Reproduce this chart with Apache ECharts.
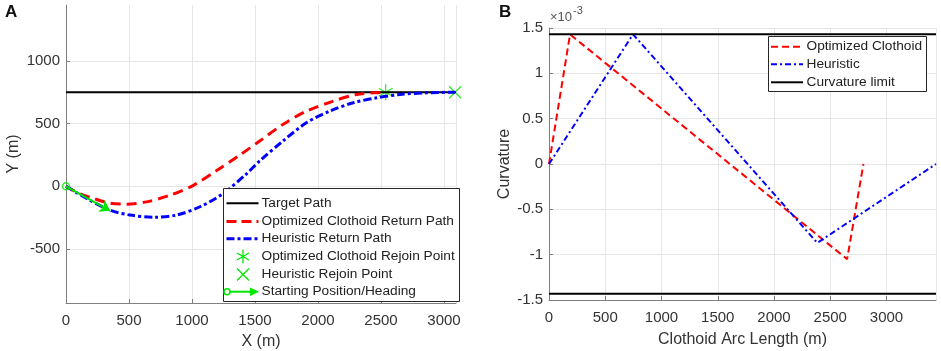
<!DOCTYPE html>
<html>
<head>
<meta charset="utf-8">
<script src="https://cdn.jsdelivr.net/npm/echarts@6/dist/echarts.min.js"></script>
<style>
html,body{margin:0;padding:0;background:#fff}
#chart{width:941px;height:351px}
</style>
</head>
<body>
<div id="chart"></div>
<script>
// panel A - paths (m)
const targetPath = [[0, 750], [3095, 750]];
const clothoidPath = [[0, 0], [100, -55], [214, -95], [349, -134], [481, -142], [640, -124], [825, -71],
    [1011, 8], [1196, 126], [1381, 250], [1540, 363], [1724, 495], [1910, 600], [2121, 679],
    [2307, 732], [2492, 748], [2537, 750]];
const heuristicPath = [[0, 0], [175, -103], [349, -190], [508, -229], [706, -247], [878, -229],
    [1063, -163], [1246, -58], [1433, 100], [1540, 205], [1724, 363], [1910, 508], [2095, 600],
    [2280, 666], [2466, 705], [2651, 732], [2862, 745], [3087, 750]];
const clothoidRejoin = [[2537, 750]];
const heuristicRejoin = [[3087, 750]];
const startPos = [[0, 0]];
const startHeading = [[0, 0], [350, -195]];
const pathYTicks = [-500, 0, 500, 1000];

// panel B - curvature (x1e-3) vs arc length (m)
const clothoidCurv = [[0, 0], [187, 1.43], [2650, -1.05], [2795, 0]];
const heuristicCurv = [[0, 0], [747, 1.43], [2385, -0.87], [3440, 0]];
const curvLimit = 1.43;

const FONT = 'Liberation Sans';
const GREEN = '#00e600';
const TXT = '#333';
const AXC = '#808080';
const GRIDC = '#e6e6e6';
const ASTER = 'path://M0,-1L0,1M-0.87,-0.5L0.87,0.5M-0.87,0.5L0.87,-0.5M-1,0L1,0';
const XMARK = 'path://M-1,-1L1,1M-1,1L1,-1';

let myChart = echarts.init(document.getElementById('chart'));

function axisCommon() {
    return {
        axisLine: {show: true, onZero: false, lineStyle: {color: AXC, width: 1}},
        axisTick: {show: true, inside: true, length: 4, lineStyle: {color: AXC}},
        splitLine: {show: true, lineStyle: {color: GRIDC, width: 1}},
        axisLabel: {color: TXT, fontFamily: FONT, fontSize: 15, margin: 6,
            formatter: function (v) { return String(v); }},
        nameTextStyle: {color: TXT, fontFamily: FONT, fontSize: 16}
    };
}

// legend drawn by hand to look like matlab
function gLine(x1, y1, x2, y2, color, dash, w) {
    return {type: 'line', z: 101, shape: {x1: x1, y1: y1, x2: x2, y2: y2},
        style: {stroke: color, lineWidth: w, lineDash: dash}};
}
function legendLine(x, y, color, dash, w) {
    return gLine(x, y, x + 32, y, color, dash, w);
}
function legendText(x, y, t) {
    return {type: 'text', z: 101, x: x, y: y,
        style: {text: t, fill: '#222', font: '13.7px "Liberation Sans"', verticalAlign: 'middle'}};
}

let graphics = [
    {type: 'text', x: 5, y: 4, style: {text: 'A', fill: '#111', font: 'bold 17px "Liberation Sans"'}},
    {type: 'text', x: 499, y: 4, style: {text: 'B', fill: '#111', font: 'bold 17px "Liberation Sans"'}},
    {type: 'text', x: 550, y: 11, style: {text: '×10', fill: '#555', font: '13px "Liberation Sans"'}},
    {type: 'text', x: 573, y: 5, style: {text: '-3', fill: '#555', font: '11px "Liberation Sans"'}},
    // legend A
    {type: 'rect', z: 100, shape: {x: 223.5, y: 188.5, width: 236, height: 113},
        style: {fill: '#fff', stroke: '#262626', lineWidth: 1}},
    legendLine(226.5, 203.3, '#000', null, 2),
    legendLine(226.5, 221.5, '#ff0000', [10, 5], 3),
    legendLine(226.5, 238.7, '#0000ff', [8, 3, 3, 3], 3),
    gLine(243, 249.5, 243, 263.5, GREEN, null, 1.3),
    gLine(237, 253, 249, 260, GREEN, null, 1.3),
    gLine(237, 260, 249, 253, GREEN, null, 1.3),
    gLine(237, 268.5, 249, 280.5, GREEN, null, 1.3),
    gLine(237, 280.5, 249, 268.5, GREEN, null, 1.3),
    gLine(227, 291.7, 256, 291.7, GREEN, null, 2),
    {type: 'polygon', z: 101, shape: {points: [[259, 291.7], [250, 287.5], [250, 295.9]]},
        style: {fill: GREEN}},
    {type: 'circle', z: 102, shape: {cx: 227, cy: 291.7, r: 3},
        style: {stroke: GREEN, lineWidth: 1.5, fill: '#fff'}},
    legendText(261.5, 203.3, 'Target Path'),
    legendText(261.5, 221.5, 'Optimized Clothoid Return Path'),
    legendText(261.5, 238.7, 'Heuristic Return Path'),
    legendText(261.5, 256.5, 'Optimized Clothoid Rejoin Point'),
    legendText(261.5, 274.5, 'Heuristic Rejoin Point'),
    legendText(261.5, 291.7, 'Starting Position/Heading'),
    // legend B
    {type: 'rect', z: 100, shape: {x: 768.5, y: 36.5, width: 158, height: 55},
        style: {fill: '#fff', stroke: '#262626', lineWidth: 1}},
    legendLine(771, 46.7, '#ff0000', [7, 4], 2),
    legendLine(771, 64.3, '#0000ff', [6, 3, 2, 3], 2),
    legendLine(771, 82.3, '#000', null, 2),
    legendText(806.5, 46.7, 'Optimized Clothoid'),
    legendText(806.5, 64.3, 'Heuristic'),
    legendText(806.5, 82.3, 'Curvature limit')
];

let xA = axisCommon();
let yA = axisCommon();
let xB = axisCommon();
let yB = axisCommon();

let option = {
    animation: false,
    backgroundColor: '#fff',
    textStyle: {fontFamily: FONT},
    grid: [
        {left: 66, top: 5, width: 390, height: 298, outerBoundsMode: 'none'},
        {left: 549, top: 28, width: 387, height: 272, outerBoundsMode: 'none'}
    ],
    xAxis: [
        Object.assign(xA, {gridIndex: 0, type: 'value', min: 0, max: 3095, interval: 500,
            name: 'X (m)', nameLocation: 'middle', nameGap: 31,
            axisLabel: Object.assign(xA.axisLabel, {showMaxLabel: false, margin: 10})}),
        Object.assign(xB, {gridIndex: 1, type: 'value', min: 0, max: 3440, interval: 500,
            name: 'Clothoid Arc Length (m)', nameLocation: 'middle', nameGap: 32,
            axisLabel: Object.assign(xB.axisLabel, {showMaxLabel: false, margin: 10})})
    ],
    yAxis: [
        Object.assign(yA, {gridIndex: 0, type: 'value', min: -930, max: 1445,
            name: 'Y (m)', nameLocation: 'middle', nameGap: 44,
            axisLabel: Object.assign(yA.axisLabel, {customValues: pathYTicks}),
            axisTick: Object.assign(yA.axisTick, {customValues: pathYTicks})}),
        Object.assign(yB, {gridIndex: 1, type: 'value', min: -1.5, max: 1.5, interval: 0.5,
            name: 'Curvature', nameLocation: 'middle', nameGap: 36})
    ],
    series: [
        {type: 'line', name: 'Target Path', xAxisIndex: 0, yAxisIndex: 0, data: targetPath,
            showSymbol: false, lineStyle: {color: '#000', width: 2}},
        {type: 'line', name: 'Optimized Clothoid Return Path', xAxisIndex: 0, yAxisIndex: 0,
            data: clothoidPath, showSymbol: false, smooth: 0.3,
            lineStyle: {color: '#ff0000', width: 3, type: [10, 6]}},
        {type: 'line', name: 'Heuristic Return Path', xAxisIndex: 0, yAxisIndex: 0,
            data: heuristicPath, showSymbol: false, smooth: 0.3,
            lineStyle: {color: '#0000ff', width: 3, type: [8, 3, 3, 3]}},
        {type: 'scatter', name: 'Optimized Clothoid Rejoin Point', xAxisIndex: 0, yAxisIndex: 0,
            data: clothoidRejoin, symbol: ASTER, symbolSize: 16,
            itemStyle: {color: 'none', borderColor: GREEN, borderWidth: 1.3}},
        {type: 'scatter', name: 'Heuristic Rejoin Point', xAxisIndex: 0, yAxisIndex: 0,
            data: heuristicRejoin, symbol: XMARK, symbolSize: 12,
            itemStyle: {color: 'none', borderColor: GREEN, borderWidth: 1.3}},
        {type: 'lines', name: 'Starting Heading', coordinateSystem: 'cartesian2d',
            xAxisIndex: 0, yAxisIndex: 0, data: [{coords: startHeading}],
            symbol: ['none', 'arrow'], symbolSize: 10,
            lineStyle: {color: GREEN, width: 2, opacity: 1}, z: 5},
        {type: 'scatter', name: 'Starting Position', xAxisIndex: 0, yAxisIndex: 0, data: startPos,
            symbol: 'circle', symbolSize: 7, z: 6,
            itemStyle: {color: 'none', borderColor: GREEN, borderWidth: 1.5}},

        {type: 'line', name: 'Optimized Clothoid', xAxisIndex: 1, yAxisIndex: 1, data: clothoidCurv,
            showSymbol: false, lineStyle: {color: '#ff0000', width: 2, type: [7, 4]}},
        {type: 'line', name: 'Heuristic', xAxisIndex: 1, yAxisIndex: 1, data: heuristicCurv,
            showSymbol: false, lineStyle: {color: '#0000ff', width: 2, type: [6, 3, 2, 3]}},
        {type: 'line', name: 'Curvature limit', xAxisIndex: 1, yAxisIndex: 1,
            data: [[0, curvLimit], [3440, curvLimit]], showSymbol: false,
            lineStyle: {color: '#000', width: 2}},
        {type: 'line', name: 'Curvature limit (neg)', xAxisIndex: 1, yAxisIndex: 1,
            data: [[0, -curvLimit], [3440, -curvLimit]], showSymbol: false,
            lineStyle: {color: '#000', width: 2}}
    ],
    graphic: graphics
};
myChart.setOption(option);
</script>
</body>
</html>
